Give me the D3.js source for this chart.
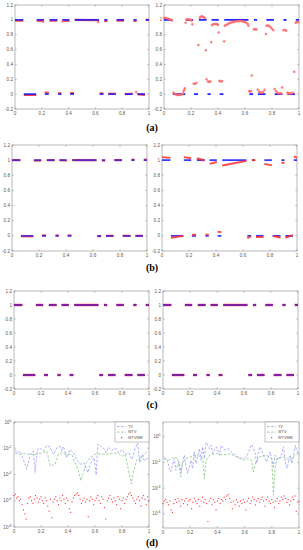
<!DOCTYPE html>
<html><head><meta charset="utf-8">
<script src="https://cdn.jsdelivr.net/npm/d3@7"></script>
<style>body{margin:0;background:#fff}svg{display:block}</style>
</head><body>
<svg id="c" width="303" height="550"></svg>
<script>
// ---------- DATA ----------
const xTicks = [0, 0.2, 0.4, 0.6, 0.8, 1];
const xTickLabels = ["0", "0.2", "0.4", "0.6", "0.8", "1"];
const yTicks = [-0.2, 0, 0.2, 0.4, 0.6, 0.8, 1, 1.2];
const yTickLabels = ["-0.2", "0", "0.2", "0.4", "0.6", "0.8", "1", "1.2"];
const panelLabels = ["(a)", "(b)", "(c)", "(d)"];
const legendLabels = ["TV", "WTV", "WTVMM"];
const logTicksLeft = [-8, -6, -4, -2, 0];   // exponents of 10
const logTicksRight = [-6, -4, -2, 0];

// true piecewise signal: [x0, x1, value]
const signal = [[0.0,0.062,1],[0.066,0.158,0],[0.162,0.216,1],[0.222,0.252,0],[0.258,0.316,1],[0.322,0.346,0],[0.352,0.406,1],[0.412,0.44,0],[0.446,0.626,1],[0.632,0.66,0],[0.666,0.69,1],[0.696,0.752,0],[0.758,0.814,1],[0.82,0.878,0],[0.884,0.908,1],[0.914,0.97,0],[0.976,1.0,1]];

// reconstructions as segments: [x0, x1, yStart, yEnd]
const reconALeft = [[0.0,0.062,0.99,0.99],[0.066,0.158,-0.01,-0.01],[0.162,0.216,0.99,0.985],[0.222,0.252,0.02,0.02],[0.258,0.316,0.99,0.99],[0.322,0.346,0.012,0.012],[0.352,0.406,0.99,0.985],[0.412,0.44,0.015,0.015],[0.446,0.626,1.0,0.995],[0.632,0.66,0.01,0.01],[0.666,0.69,0.985,0.985],[0.696,0.752,0.005,0.005],[0.758,0.814,0.99,0.99],[0.82,0.878,0.0,0.005],[0.884,0.908,0.985,0.99],[0.914,0.97,0.0,-0.01],[0.976,1.0,1.0,1.0]];
const reconALeftPts = [[0.21,0.975],[0.62,0.97],[0.905,0.03],[0.355,0.98]];
const reconARightPts = [[0.0,1.025],[0.01,1.025],[0.02,1.02],[0.03,1.015],[0.04,1.01],[0.05,1.0],[0.06,0.99],
[0.07,0.02],[0.08,0.005],[0.09,-0.005],[0.1,-0.01],[0.11,-0.01],[0.12,-0.01],[0.13,-0.005],[0.14,0.01],[0.145,0.04],[0.15,0.06],[0.155,0.08],
[0.16,0.96],[0.165,1.0],[0.175,1.01],[0.185,1.005],[0.195,1.0],[0.205,0.99],[0.21,0.94],
[0.22,0.14],[0.23,0.14],[0.24,0.15],[0.255,0.66],
[0.265,1.03],[0.275,1.045],[0.285,1.045],[0.295,1.035],[0.305,1.02],[0.31,0.59],
[0.315,0.2],[0.325,0.17],[0.335,0.165],[0.345,0.17],[0.35,0.7],
[0.355,0.93],[0.365,0.94],[0.375,0.945],[0.385,0.945],[0.395,0.94],[0.4,0.93],[0.405,0.83],
[0.41,0.18],[0.42,0.17],[0.43,0.175],[0.445,0.71],
[0.45,0.92],[0.46,0.93],[0.47,0.94],[0.48,0.95],[0.49,0.96],[0.5,0.965],[0.51,0.97],[0.52,0.975],[0.53,0.98],[0.54,0.98],[0.55,0.985],[0.56,0.985],[0.57,0.985],[0.58,0.98],[0.59,0.975],[0.6,0.97],[0.61,0.96],[0.62,0.945],[0.625,0.92],
[0.63,0.04],[0.64,0.035],[0.645,0.04],[0.65,0.25],
[0.665,0.87],[0.675,0.875],[0.685,0.87],
[0.695,0.06],[0.705,0.03],[0.715,0.02],[0.725,0.02],[0.735,0.03],[0.745,0.06],[0.755,0.81],
[0.76,0.92],[0.77,0.925],[0.78,0.915],[0.79,0.9],[0.8,0.88],[0.81,0.86],
[0.82,0.07],[0.83,0.04],[0.84,0.02],[0.85,0.01],[0.86,0.01],[0.87,0.01],[0.875,0.09],
[0.885,0.86],[0.895,0.865],[0.905,0.855],
[0.915,0.02],[0.925,0.01],[0.935,0.01],[0.945,0.01],[0.955,0.02],[0.965,0.3],
[0.975,0.96],[0.985,0.97],[0.995,0.97]];
const reconBLeft = [[0.0,0.062,1.0,1.0],[0.066,0.158,-0.005,-0.005],[0.162,0.216,0.995,0.995],[0.222,0.252,0.005,0.005],[0.258,0.316,1.0,1.0],[0.322,0.346,0.005,0.005],[0.352,0.406,1.0,0.995],[0.412,0.44,0.005,0.005],[0.446,0.626,1.0,1.0],[0.632,0.66,-0.005,-0.005],[0.666,0.69,0.995,0.995],[0.696,0.752,0.0,0.0],[0.758,0.814,1.0,1.0],[0.82,0.878,0.0,0.0],[0.884,0.908,1.005,1.005],[0.914,0.97,0.0,0.0],[0.976,1.0,1.005,1.005]];
const reconBRight = [[0.0,0.062,1.04,1.03],[0.066,0.158,-0.025,0.0],[0.162,0.216,1.04,1.025],[0.222,0.252,0.015,0.015],[0.258,0.316,1.025,0.995],[0.322,0.346,0.02,0.015],[0.352,0.406,0.95,0.975],[0.412,0.44,0.055,0.05],[0.446,0.626,0.93,0.99],[0.632,0.66,-0.03,-0.005],[0.666,0.69,1.0,1.0],[0.696,0.752,-0.015,-0.015],[0.758,0.814,0.95,0.93],[0.82,0.878,0.0,-0.025],[0.884,0.908,0.965,0.965],[0.914,0.97,-0.025,0.01],[0.976,1.0,1.05,1.03]];

// (d) error curves: [x, value]
const tvLeft = [[0.007,7.9e-3],[0.025,4.5e-3],[0.045,6.0e-3],[0.064,1.9e-3],[0.082,6.0e-4],[0.094,2.5e-4],[0.106,7.9e-4],[0.119,3.4e-3],[0.144,6.0e-3],[0.156,1.4e-4],[0.173,7.9e-3],[0.193,1.05e-2],[0.218,6.0e-3],[0.243,1.66e-2],[0.267,1.2e-2],[0.292,3.4e-3],[0.317,1.05e-2],[0.342,1.41e-2],[0.354,6.0e-3],[0.366,1.41e-2],[0.391,1.9e-3],[0.416,7.9e-3],[0.441,4.5e-3],[0.465,1.41e-3],[0.49,6.0e-4],[0.515,7.9e-4],[0.527,4.5e-4],[0.547,1.4e-4],[0.564,6.0e-4],[0.577,1.07e-3],[0.594,1.9e-3],[0.609,9.5e-5],[0.621,2.1e-2],[0.639,1.41e-2],[0.663,1.05e-2],[0.683,4.5e-3],[0.7,1.2e-2],[0.725,6.8e-3],[0.75,1.05e-2],[0.775,4.5e-3],[0.8,7.9e-3],[0.824,3.4e-3],[0.849,4.5e-3],[0.874,1.41e-3],[0.899,1.05e-2],[0.916,2.5e-2],[0.931,7.9e-4],[0.948,3.4e-3],[0.965,1.07e-3],[0.985,1.9e-3],[1.0,1.41e-3]];
const wtvLeft = [[0.007,4.5e-3],[0.045,3.4e-3],[0.082,3.8e-3],[0.119,3.4e-3],[0.168,3.4e-3],[0.205,4.5e-3],[0.243,6.0e-3],[0.255,1.9e-3],[0.267,4.5e-4],[0.304,6.0e-4],[0.329,3.4e-3],[0.354,4.5e-3],[0.391,3.4e-3],[0.428,3.4e-3],[0.453,7.9e-4],[0.478,1.9e-4],[0.495,3.4e-5],[0.515,1.4e-4],[0.535,7.9e-4],[0.564,1.9e-3],[0.601,3.4e-3],[0.639,3.8e-3],[0.688,3.4e-3],[0.738,4.5e-3],[0.775,3.8e-3],[0.8,2.5e-3],[0.824,3.4e-3],[0.849,1.9e-4],[0.869,1.9e-5],[0.886,1.9e-4],[0.911,1.41e-3],[0.948,1.9e-3],[0.985,6.0e-3]];
const wtvmmLeft = [2.5e-6,3.2e-6,1.6e-6,2.0e-6,1.0e-6,1.3e-6,5.0e-7,2.0e-7,1.0e-7,4.0e-8,6.3e-7,1.6e-6,2.0e-6,1.0e-6,6.3e-7,1.3e-6,2.5e-6,1.6e-6,8.0e-7,1.3e-6,2.0e-6,1.0e-6,6.3e-7,1.6e-6,1.0e-6,4.0e-7,1.6e-7,1.3e-6,5.0e-8,8.0e-7,1.3e-6,2.0e-6,1.0e-6,5.0e-7,1.6e-6,1.0e-6,2.5e-6,1.3e-6,6.3e-7,1.6e-6,1.0e-6,2.5e-7,1.3e-7,8.0e-7,1.6e-6,2.5e-6,3.2e-6,4.0e-6,2.5e-6,1.3e-6,6.3e-7,1.0e-6,1.6e-6,8.0e-7,1.3e-6,6.0e-8,1.0e-6,2.0e-6,1.3e-6,5.0e-7,1.0e-6,1.6e-6,2.5e-6,1.0e-6,6.3e-7,2.0e-6,1.3e-6,3.0e-7,4.0e-8,1.0e-6,1.6e-6,2.5e-6,1.3e-6,8.0e-7,1.6e-6,1.0e-6,5.0e-7,2.0e-6,1.3e-6,2.5e-7,1.0e-6,1.6e-6,6.3e-7,1.3e-6,2.0e-6,3.2e-6,4.0e-6,2.5e-6,1.6e-6,1.0e-6,6.3e-7,1.3e-6,2.0e-6,1.0e-6,4.0e-7,1.6e-6,2.5e-6,1.3e-6,5.0e-7,2.0e-6,1.0e-6];
const tvRight = [[0.007,2.75e-2],[0.032,1.5e-2],[0.045,3.4e-3],[0.057,1.9e-3],[0.082,2.0e-2],[0.094,2.5e-3],[0.119,1.1e-2],[0.131,1.9e-3],[0.156,3.7e-2],[0.168,6.3e-3],[0.181,1.4e-3],[0.205,1.5e-2],[0.218,3.4e-3],[0.23,6.8e-2],[0.243,8.3e-3],[0.267,1.2e-1],[0.28,1.5e-2],[0.292,1.66e-1],[0.304,2.0e-2],[0.317,3.6e-1],[0.342,1.2e-1],[0.354,2.2e-1],[0.366,5.0e-2],[0.391,1.66e-1],[0.416,3.7e-2],[0.428,2.2e-1],[0.453,9.1e-2],[0.478,1.2e-1],[0.515,5.0e-2],[0.552,2.75e-2],[0.589,2.0e-2],[0.614,2.75e-2],[0.639,1.2e-1],[0.651,2.5e-1],[0.676,6.8e-2],[0.688,8.3e-3],[0.7,5.0e-2],[0.713,1.66e-1],[0.738,3.7e-2],[0.762,1.1e-2],[0.787,6.8e-2],[0.812,4.6e-3],[0.824,3.7e-2],[0.849,1.5e-2],[0.874,5.0e-2],[0.886,1.66e-1],[0.899,1.1e-2],[0.911,3.4e-3],[0.936,3.7e-2],[0.948,8.3e-3],[0.96,3.7e-2],[0.973,2.2e-1],[0.985,6.8e-2],[1.0,3.7e-2]];
const wtvRight = [[0.007,2.0e-2],[0.045,1.5e-2],[0.082,2.75e-2],[0.106,2.0e-2],[0.119,4.6e-3],[0.131,7.6e-4],[0.144,1.1e-2],[0.168,2.0e-2],[0.205,2.75e-2],[0.243,3.7e-2],[0.28,2.75e-2],[0.292,2.0e-2],[0.304,5.6e-4],[0.317,1.5e-2],[0.342,3.7e-2],[0.391,5.0e-2],[0.441,3.7e-2],[0.49,5.0e-2],[0.54,2.75e-2],[0.589,1.5e-2],[0.626,2.0e-2],[0.651,1.5e-2],[0.663,1.9e-3],[0.683,1.1e-2],[0.713,2.75e-2],[0.762,3.7e-2],[0.8,2.0e-2],[0.812,2.8e-5],[0.824,3.4e-3],[0.837,2.0e-2],[0.886,2.75e-2],[0.936,1.5e-2],[0.973,3.7e-2],[1.0,5.0e-2]];
const wtvmmRight = [6.3e-6,1.0e-5,1.3e-5,8.0e-6,5.0e-6,1.0e-5,2.0e-6,1.3e-6,6.3e-6,1.3e-5,8.0e-6,1.6e-5,1.0e-5,4.0e-6,1.3e-5,6.3e-6,1.0e-5,1.6e-5,5.0e-6,1.0e-5,1.3e-5,2.5e-6,8.0e-6,1.6e-5,1.0e-5,6.3e-6,1.3e-5,4.0e-6,1.0e-5,2.0e-5,8.0e-6,1.3e-5,6.3e-6,2.5e-7,1.0e-5,1.6e-5,5.0e-6,1.3e-5,8.0e-6,2.0e-6,1.0e-5,1.6e-5,6.3e-6,1.3e-5,1.0e-5,2.0e-5,1.3e-5,2.5e-5,3.2e-5,1.6e-5,8.0e-6,2.5e-6,1.0e-5,5.0e-6,1.3e-5,8.0e-6,4.0e-6,1.0e-5,6.3e-6,1.3e-5,8.0e-6,2.0e-6,1.0e-5,1.6e-5,6.3e-6,1.0e-5,2.0e-5,1.3e-5,5.0e-6,1.0e-5,1.6e-5,8.0e-6,1.3e-5,2.0e-5,1.0e-5,4.0e-6,1.3e-5,2.0e-5,1.0e-5,6.3e-6,1.3e-5,8.0e-6,3.2e-6,1.0e-5,1.6e-5,6.3e-6,1.0e-5,2.0e-5,1.3e-5,2.5e-5,1.6e-5,8.0e-6,1.3e-5,5.0e-6,1.0e-5,2.0e-5,1.3e-5,2.5e-5,1.6e-6,8.0e-6,1.0e-5];

// ---------- DRAW ----------
const svg = d3.select("#c");
const FONT = "Liberation Sans, Arial, sans-serif";
const GRID = "#8a8a8a";
const LBL = "#555";
const BLUE = "#1a1aff", RED = "#ff2a2a";

const layout = {
  aL:[15,149,5,109], aR:[164,299,5,109],
  bL:[12,147,145,251], bR:[162,297,145,251],
  cL:[14,149,291,389], cR:[163,298,291,389],
  dL:[14,149,422,527], dR:[163,299,422,528]
};

function frame(g, x, y, yAxisFn) {
  const [r0, r1] = x.range(), [b, t] = y.range();
  g.append("rect").attr("x", r0).attr("y", t).attr("width", r1 - r0).attr("height", b - t)
    .attr("fill", "none").attr("stroke", GRID).attr("stroke-width", 0.6);
  xTicks.forEach((v, i) => {
    const px = x(v);
    g.append("line").attr("x1", px).attr("x2", px).attr("y1", b).attr("y2", b - 1.8).attr("stroke", GRID).attr("stroke-width", 0.5);
    g.append("line").attr("x1", px).attr("x2", px).attr("y1", t).attr("y2", t + 1.8).attr("stroke", GRID).attr("stroke-width", 0.5);
    g.append("text").attr("x", px).attr("y", b + 6).attr("text-anchor", "middle")
      .attr("font-family", FONT).attr("font-size", 4.6).attr("fill", LBL).text(xTickLabels[i]);
  });
  yAxisFn(g, r0, r1);
}

function linearPanel(key, drawFn) {
  const [x0, x1, y0, y1] = layout[key];
  const x = d3.scaleLinear().domain([0, 1]).range([x0, x1]);
  const y = d3.scaleLinear().domain([-0.2, 1.2]).range([y1, y0]);
  const g = svg.append("g");
  frame(g, x, y, (g, r0, r1) => {
    yTicks.forEach((v, i) => {
      const py = y(v);
      g.append("line").attr("x1", r0).attr("x2", r0 + 1.8).attr("y1", py).attr("y2", py).attr("stroke", GRID).attr("stroke-width", 0.5);
      g.append("line").attr("x1", r1).attr("x2", r1 - 1.8).attr("y1", py).attr("y2", py).attr("stroke", GRID).attr("stroke-width", 0.5);
      g.append("text").attr("x", r0 - 2).attr("y", py + 1.6).attr("text-anchor", "end")
        .attr("font-family", FONT).attr("font-size", 4.6).attr("fill", LBL).text(yTickLabels[i]);
    });
  });
  drawFn(g, x, y);
}

function segs(g, x, y, data, color, w, op) {
  g.selectAll(null).data(data).join("line")
    .attr("x1", d => x(d[0])).attr("x2", d => x(d[1]))
    .attr("y1", d => y(d[2])).attr("y2", d => y(d.length > 3 ? d[3] : d[2]))
    .attr("stroke", color).attr("stroke-width", w).attr("stroke-opacity", op);
}
function sigSegs(g, x, y, op) {
  segs(g, x, y, signal.map(s => [s[0], s[1], s[2], s[2]]), BLUE, 1.8, op);
}
function pts(g, x, y, data) {
  g.selectAll(null).data(data).join("circle")
    .attr("cx", d => x(d[0])).attr("cy", d => y(d[1])).attr("r", 1.0)
    .attr("fill", "#ff8c8c").attr("stroke", "#ff3030").attr("stroke-width", 0.35);
}

linearPanel("aL", (g, x, y) => { segs(g, x, y, reconALeft, RED, 2.2, 0.9); sigSegs(g, x, y, 0.85); pts(g, x, y, reconALeftPts); });
linearPanel("aR", (g, x, y) => { sigSegs(g, x, y, 0.95); pts(g, x, y, reconARightPts); });
linearPanel("bL", (g, x, y) => { segs(g, x, y, reconBLeft, RED, 2.2, 0.9); sigSegs(g, x, y, 0.7); });
linearPanel("bR", (g, x, y) => { sigSegs(g, x, y, 0.85); segs(g, x, y, reconBRight, RED, 1.9, 0.85); });
linearPanel("cL", (g, x, y) => { segs(g, x, y, signal, RED, 2.4, 1); sigSegs(g, x, y, 0.62); });
linearPanel("cR", (g, x, y) => { segs(g, x, y, signal, RED, 2.4, 1); sigSegs(g, x, y, 0.62); });

function logPanel(key, domain, ticks, tv, wtv, mm) {
  const [x0, x1, y0, y1] = layout[key];
  const x = d3.scaleLinear().domain([0, 1]).range([x0, x1]);
  const y = d3.scaleLog().domain(domain).range([y1, y0]);
  const g = svg.append("g");
  frame(g, x, y, (g, r0, r1) => {
    ticks.forEach(e => {
      const py = y(Math.pow(10, e));
      g.append("line").attr("x1", r0).attr("x2", r0 + 1.8).attr("y1", py).attr("y2", py).attr("stroke", GRID).attr("stroke-width", 0.5);
      g.append("line").attr("x1", r1).attr("x2", r1 - 1.8).attr("y1", py).attr("y2", py).attr("stroke", GRID).attr("stroke-width", 0.5);
      const t = g.append("text").attr("x", r0 - 2.5).attr("y", py + 1.6).attr("text-anchor", "end")
        .attr("font-family", FONT).attr("font-size", 4.6).attr("fill", LBL);
      t.append("tspan").text("10");
      t.append("tspan").attr("dy", -2).attr("font-size", 3.4).text(String(e));
    });
  });
  const line = d3.line().x(d => x(d[0])).y(d => y(d[1]));
  g.append("path").attr("d", line(tv)).attr("fill", "none").attr("stroke", "#9696ff").attr("stroke-width", 0.75).attr("stroke-dasharray", "2.5,1.6");
  g.append("path").attr("d", line(wtv)).attr("fill", "none").attr("stroke", "#7cc47c").attr("stroke-width", 0.75).attr("stroke-dasharray", "2.5,1.6");
  const n = mm.length;
  g.selectAll(null).data(mm).join("rect")
    .attr("x", (d, i) => x(i / (n - 1)) - 0.55).attr("y", d => y(d) - 0.55)
    .attr("width", 1.1).attr("height", 1.1).attr("fill", "#ff3030");
  // legend
  const lw = 34, lh = 20, lx = x1 - lw, ly = y0;
  const lg = g.append("g");
  lg.append("rect").attr("x", lx).attr("y", ly).attr("width", lw).attr("height", lh)
    .attr("fill", "#fff").attr("stroke", GRID).attr("stroke-width", 0.5);
  const colors = ["#9696ff", "#7cc47c", "#ff3030"];
  legendLabels.forEach((lab, i) => {
    const yy = ly + 4.5 + i * 5.6;
    if (i < 2) {
      lg.append("line").attr("x1", lx + 2).attr("x2", lx + 11).attr("y1", yy).attr("y2", yy)
        .attr("stroke", colors[i]).attr("stroke-width", 0.8).attr("stroke-dasharray", "2.5,1.6");
    } else {
      lg.append("rect").attr("x", lx + 6).attr("y", yy - 0.6).attr("width", 1.2).attr("height", 1.2).attr("fill", colors[i]);
    }
    lg.append("text").attr("x", lx + 13).attr("y", yy + 1.3).attr("font-family", FONT)
      .attr("font-size", 3.8).attr("fill", LBL).text(lab);
  });
}
logPanel("dL", [1e-8, 1], logTicksLeft, tvLeft, wtvLeft, wtvmmLeft);
logPanel("dR", [Math.pow(10, -7.1), Math.pow(10, 1.15)], logTicksRight, tvRight, wtvRight, wtvmmRight);

// panel captions
const capY = [131, 271, 408, 546];
panelLabels.forEach((t, i) => {
  svg.append("text").attr("x", 152).attr("y", capY[i]).attr("text-anchor", "middle")
    .attr("font-family", "Liberation Serif, Times New Roman, serif").attr("font-weight", "bold")
    .attr("font-size", 10).attr("fill", "#000").text(t);
});
</script>
</body></html>
